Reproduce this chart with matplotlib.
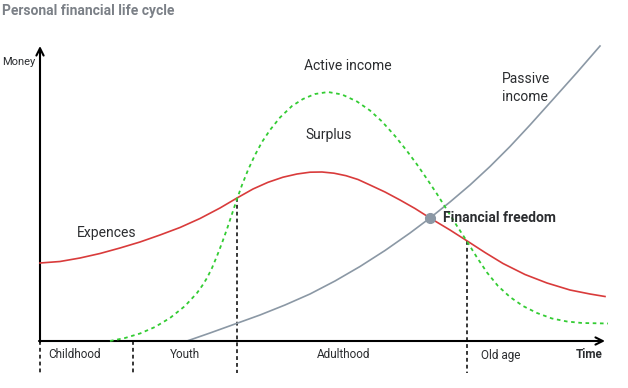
import numpy as np
import matplotlib.pyplot as plt

plt.rcParams['font.family'] = ['Roboto', 'DejaVu Sans']

# curves (time, money)
exp_t = [0, 20, 40, 60, 80, 100, 120, 140, 160, 180, 197, 213, 228, 243, 257,
         270, 282, 294, 306, 318, 330, 345, 360, 375, 390, 410, 428, 445, 463,
         485, 507, 530, 550, 565]
exp_m = [78, 79.5, 83, 87.5, 93, 99, 106, 113.5, 122.5, 133, 143, 152, 158.7,
         163.8, 167, 168.8, 169, 167.8, 165.3, 161.5, 156, 149, 141, 132.5,
         123, 111, 99.5, 88.5, 77.5, 66.5, 58, 51, 47, 44.5]

act_t = [70, 85, 100, 115, 130, 145, 157, 162, 167, 172, 177, 182, 187, 192,
         197, 202, 208, 215, 222, 230, 240, 252, 263, 275, 288, 302, 317, 330,
         342, 355, 367, 377, 387, 397, 407, 417, 428, 437, 447, 458, 470, 483,
         497, 512, 527, 542, 568]
act_m = [0, 3, 7.5, 14, 23, 35, 48, 55, 63, 73, 85, 98, 112, 127,
         142, 156, 171, 186, 199, 211, 223.5, 235, 242, 247, 249, 246.5, 239.5,
         230.5, 219.5, 205, 190, 176.5, 162, 147, 131, 115, 98, 83.5, 68.5, 55,
         44, 35, 28, 22.5, 19.5, 18, 17.5]

pas_t = [147, 170, 195, 220, 245, 270, 295, 320, 345, 370, 390, 410, 430, 450,
         470, 490, 512, 537, 560]
pas_m = [0, 8, 17, 26, 36, 47, 60, 74.5, 90.5, 108, 123, 139, 156, 174.5,
         194.5, 216, 240.5, 268.5, 295]

freedom = (390, 123)

stages = ["Childhood", "Youth", "Adulthood", "Old age"]
stage_x = [35, 144.5, 304, 461]
bounds = [0, 93, 197, 427]

fig = plt.figure(figsize=(6.28, 3.88), dpi=100)
ax = fig.add_axes([0, 0, 1, 1])
ax.set_xlim(-40, 588)
ax.set_ylim(-47, 341)
ax.axis('off')

dark = '#2b2d30'

# axes with arrows
ax.annotate('', xy=(0, 295), xytext=(0, -1),
            arrowprops=dict(arrowstyle='->', lw=1.5, color='black',
                            mutation_scale=13, shrinkA=0, shrinkB=0))
ax.annotate('', xy=(565, 0), xytext=(-1, 0),
            arrowprops=dict(arrowstyle='->', lw=1.5, color='black',
                            mutation_scale=13, shrinkA=0, shrinkB=0))

# stage separators
for b in bounds:
    top = 0
    if b > 150:
        top = np.interp(b, exp_t, exp_m)
    ax.plot([b, b], [top, -32], color='black', lw=1.1,
            linestyle=(0, (2.5, 2)), zorder=1)

ax.plot(pas_t, pas_m, color='#8b98a5', lw=1.2, zorder=2)
ax.plot(exp_t, exp_m, color='#d93b3b', lw=1.2, zorder=3)
ax.plot(act_t, act_m, color='#33cc33', lw=1.3, linestyle=(0, (2, 2)), zorder=3)
ax.plot(*freedom, 'o', color='#8b98a5', ms=7, zorder=4)

ax.text(-38, 330, "Personal financial life cycle", fontsize=10, fontweight='bold',
        color='#7b8087', va='center', ha='left')
ax.text(-38, 279, "Money", fontsize=8, color=dark, va='center', ha='left')
ax.text(308, 275, "Active income", fontsize=10, color=dark, ha='center', va='center')
ax.text(289, 206, "Surplus", fontsize=10, color=dark, ha='center', va='center')
ax.text(67, 108, "Expences", fontsize=10, color=dark, ha='center', va='center')
ax.text(462, 253, "Passive\nincome", fontsize=10, color=dark, ha='left',
        va='center', linespacing=1.4)
ax.text(403, 123, "Financial freedom", fontsize=10, fontweight='bold', color=dark,
        ha='left', va='center')

for s, x in zip(stages, stage_x):
    ax.text(x, -14, s, fontsize=8.5, color=dark, ha='center', va='center')
ax.text(563, -14, "Time", fontsize=8.5, fontweight='bold', color=dark,
        ha='right', va='center')

fig.savefig('out.png', dpi=100)
